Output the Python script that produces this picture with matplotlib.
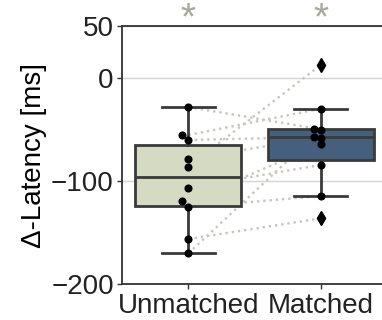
import matplotlib
matplotlib.use("Agg")
import matplotlib.pyplot as plt
import numpy as np

plt.rcParams['font.family'] = ['Liberation Sans', 'DejaVu Sans']

# data (paired samples, same order in both lists)
groups = ['Unmatched', 'Matched']
unmatched = [-28.4, -55.5, -60.3, -78.3, -86.0, -106.4, -119.4, -125.5, -156.2, -170.0]
matched = [-50.0, -30.0, -57.4, -58.0, 12.3, -84.5, -64.5, -114.5, -136.1, -50.6]
box_colors = ['#d5dac2', '#465f7c']
yticks = [50, 0, -100, -200]
stars = ['*', '*']


def dodge(vals, thresh=6.2, step=0.05):
    # crude swarm: push a point left if it sits on top of an already placed one
    order = np.argsort(vals)
    placed = []
    offs = np.zeros(len(vals))
    for i in order:
        off = 0.0
        while any(abs(vals[i] - v) < thresh and abs(off - o) < 1e-9 for v, o in placed):
            off -= step
        offs[i] = off
        placed.append((vals[i], off))
    return offs


fig = plt.figure(figsize=(3.82, 3.2), dpi=100)
ax = fig.add_axes([0.320, 0.1116, 0.693, 0.807])

data = [unmatched, matched]

# paired lines behind everything
for u, m in zip(unmatched, matched):
    ax.plot([0, 1], [u, m], ls=':', color='#c6c6b9', lw=1.7, zorder=1)

edge = '#3a3a3a'
bp = ax.boxplot(data, positions=[0, 1], widths=0.8, patch_artist=True,
                capwidths=0.4, whis=1.5,
                boxprops=dict(edgecolor=edge, linewidth=2),
                medianprops=dict(color=edge, linewidth=2),
                whiskerprops=dict(color=edge, linewidth=2),
                capprops=dict(color=edge, linewidth=2),
                flierprops=dict(marker='d', markerfacecolor='black',
                                markeredgecolor='black', markersize=7))
for patch, c in zip(bp['boxes'], box_colors):
    patch.set_facecolor(c)
    patch.set_zorder(2)
for key in ['medians', 'whiskers', 'caps', 'fliers']:
    for art in bp[key]:
        art.set_zorder(3)

for i, vals in enumerate(data):
    vals = np.array(vals)
    ax.scatter(i + dodge(vals), vals, s=34, color='black', zorder=4, linewidths=0)

ax.set_xlim(-0.5, 1.5)
ax.set_ylim(-200, 50)
ax.set_yticks(yticks)
ax.set_xticks([0, 1])
ax.set_xticklabels(groups)
ax.set_ylabel('Δ-Latency [ms]', fontsize=20, labelpad=3)
ax.yaxis.grid(True, color='#d4d4d4', lw=1)
ax.set_axisbelow(True)
ax.tick_params(axis='both', labelsize=20, length=3.6, width=1, color='#333333',
               labelcolor='#222222', pad=2.5)

for s in ['left', 'bottom', 'top', 'right']:
    ax.spines[s].set_color('#333333')
    ax.spines[s].set_linewidth(1.3)

for i, s in enumerate(stars):
    ax.text(i, 1.025, s, transform=ax.get_xaxis_transform(), ha='center', va='center',
            fontsize=28, color='#aaa999', clip_on=False)

fig.savefig('out.png', dpi=100)
